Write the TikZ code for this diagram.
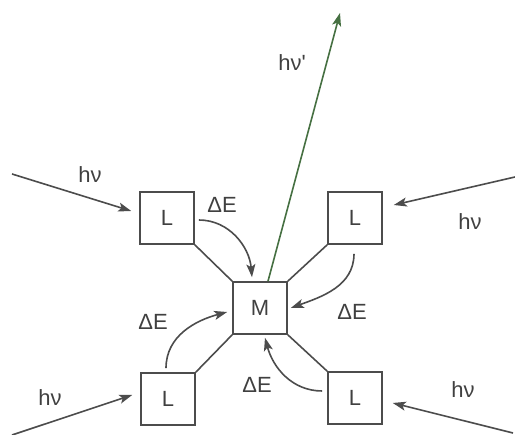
\documentclass[tikz,border=0pt]{standalone}
\usepackage{fontspec}
\setmainfont{Liberation Sans}
\usetikzlibrary{arrows.meta,positioning,calc}

\definecolor{emitgreen}{RGB}{70,112,66}

\begin{document}
\begin{tikzpicture}[
    x=1pt, y=1pt,
    box/.style={rectangle, draw=black!70, line width=1.6pt, minimum width=54pt, minimum height=52pt, inner sep=0pt, font=\fontsize{22}{26}\selectfont, text=black!75},
    link/.style={draw=black!70, line width=1.6pt},
    arrow/.style={-{Stealth[length=13pt,width=9pt,inset=3pt]}, draw=black!70, line width=1.6pt},
    emit/.style={arrow, draw=emitgreen},
    label/.style={font=\fontsize{22}{26}\selectfont, text=black!75}
]
\useasboundingbox (0,0) rectangle (515,435);

% Metal centre
\node[box] (M) at (260,127) {M};

% Ligands
\node[box] (L1) at (167,217) {L};
\node[box] (L2) at (355,217) {L};
\node[box] (L3) at (168,36) {L};
\node[box] (L4) at (355,37) {L};

% Bonds
\draw[link] (L1.south east) -- (M.north west);
\draw[link] (L2.south west) -- (M.north east);
\draw[link] (L3.north east) -- (M.south west);
\draw[link] (L4.north west) -- (M.south east);

% Incoming light
\coordinate (src1) at (12,261);
\coordinate (src2) at (515,258);
\coordinate (src3) at (12,0);
\coordinate (src4) at (513,2);
\draw[arrow] (src1) -- ($(L1.west)+(-8,7)$);
\draw[arrow] (src2) -- ($(L2.east)+(11,13)$);
\draw[arrow] (src3) -- ($(L3.west)+(-8,4)$);
\draw[arrow] (src4) -- ($(L4.east)+(10,-5)$);

\node[label] (hv1) at (90,260) {hν};
\node[label] (hv2) at (470,213) {hν};
\node[label] (hv3) at (50,37) {hν};
\node[label] (hv4) at (463,45) {hν};

% Energy transfer
\draw[arrow] ($(L1.east)+(4,-2)$) to[out=0, in=95] ($(M.north)+(-8,4)$);
\draw[arrow] ($(L2.south)+(-1,-9)$) to[out=-90, in=20] ($(M.east)+(3,0)$);
\draw[arrow] ($(L3.north)+(-2,4)$) to[out=90, in=195] ($(M.west)+(-5,-4)$);
\draw[arrow] ($(L4.west)+(-5,7)$) to[out=180, in=-75] ($(M.south)+(5,-3)$);

\node[label] (dE1) at (222,230) {ΔE};
\node[label] (dE2) at (352,123) {ΔE};
\node[label] (dE3) at (153,113) {ΔE};
\node[label] (dE4) at (257,50) {ΔE};

% Emission
\coordinate (out) at (340,422);
\draw[emit] ($(M.north)+(8,0)$) -- (out);
\node[label] (hv5) at (292,372) {hν\textquotesingle};

\end{tikzpicture}
\end{document}
